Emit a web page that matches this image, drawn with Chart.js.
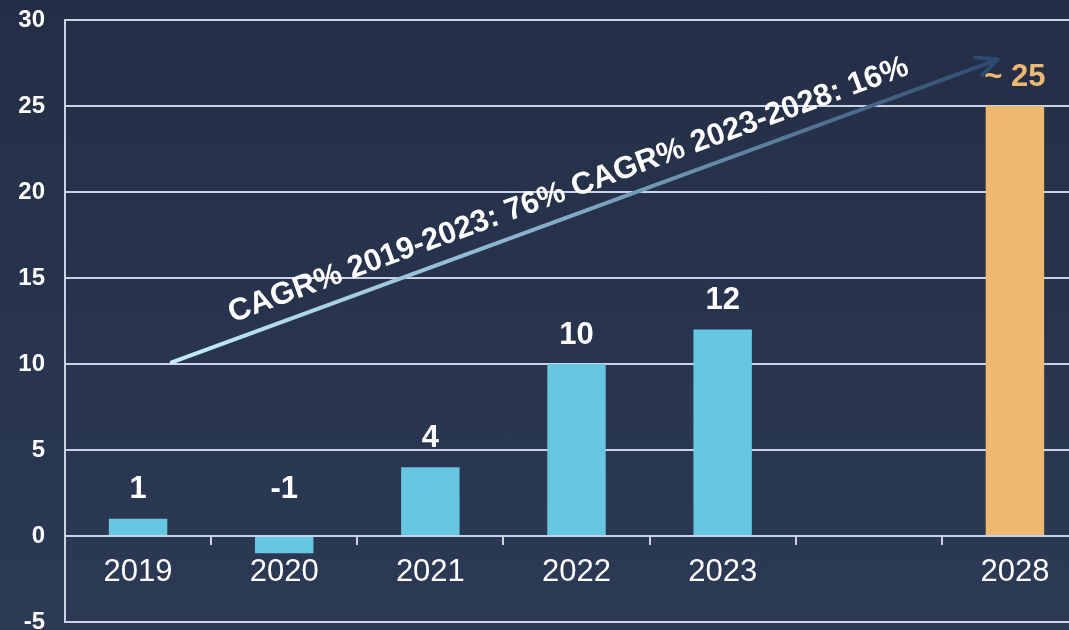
<!DOCTYPE html>
<html>
<head>
<meta charset="utf-8">
<script src="https://cdn.jsdelivr.net/npm/chart.js@4"></script>
<style>
    html, body {
        margin: 0;
        padding: 0;
        width: 1069px;
        height: 630px;
        overflow: hidden;
        background: linear-gradient(to bottom, #242e46 0%, #2c3a56 100%);
    }
    .chart-box {
        width: 1088px;
        height: 630px;
        position: relative;
    }
</style>
</head>
<body>
<div class="chart-box"><canvas id="cagrChart"></canvas></div>
<script>
// Chart data
const years = ['2019', '2020', '2021', '2022', '2023', '', '2028'];
const values = [1, -1, 4, 10, 12, null, 25];
const valueLabels = ['1', '-1', '4', '10', '12', '', '~ 25'];
const yTicks = [-5, 0, 5, 10, 15, 20, 25, 30];
const cagrText = 'CAGR% 2019-2023: 76% CAGR% 2023-2028: 16%';
// arrow ends in (category index, value) units
const arrowFrom = [0.23, 10.1];
const arrowTo = [5.88, 27.7];

const blue = '#67c6e0';
const orange = '#efb871';
const gridColor = '#c9d3e6';
const fontFamily = '"Liberation Sans", Arial, sans-serif';

const barColors = years.map(y => y === '2028' ? orange : blue);

// Labels above bars
const valueLabelPlugin = {
    id: 'valueLabels',
    afterDatasetsDraw(chart) {
        const { ctx, scales: { x, y } } = chart;
        ctx.save();
        ctx.font = 'bold 31px ' + fontFamily;
        ctx.textAlign = 'center';
        ctx.textBaseline = 'middle';
        values.forEach((v, i) => {
            if (v === null) return;
            ctx.fillStyle = years[i] === '2028' ? orange : '#ffffff';
            ctx.fillText(valueLabels[i], x.getPixelForValue(i), y.getPixelForValue(Math.max(v, 1)) - 29);
        });
        ctx.restore();
    }
};

// Growth arrow with rotated text
const arrowPlugin = {
    id: 'cagrArrow',
    afterDatasetsDraw(chart) {
        const { ctx, scales: { x, y } } = chart;
        const step = x.getPixelForValue(1) - x.getPixelForValue(0);
        const x1 = x.getPixelForValue(0) + arrowFrom[0] * step;
        const y1 = y.getPixelForValue(arrowFrom[1]);
        const x2 = x.getPixelForValue(0) + arrowTo[0] * step;
        const y2 = y.getPixelForValue(arrowTo[1]);
        const angle = Math.atan2(y2 - y1, x2 - x1);

        const grad = ctx.createLinearGradient(x1, y1, x2, y2);
        grad.addColorStop(0, '#c4ecf8');
        grad.addColorStop(0.5, '#7fa6c4');
        grad.addColorStop(1, '#2e4a70');

        ctx.save();
        ctx.strokeStyle = grad;
        ctx.lineWidth = 4;
        ctx.lineCap = 'round';
        ctx.beginPath();
        ctx.moveTo(x1, y1);
        ctx.lineTo(x2, y2);
        ctx.stroke();

        // open arrow head
        const head = 22;
        ctx.strokeStyle = '#2e4a70';
        ctx.lineJoin = 'round';
        ctx.beginPath();
        ctx.moveTo(x2 - head * Math.cos(angle - 0.45), y2 - head * Math.sin(angle - 0.45));
        ctx.lineTo(x2, y2);
        ctx.lineTo(x2 - head * Math.cos(angle + 0.45), y2 - head * Math.sin(angle + 0.45));
        ctx.stroke();

        // text along the arrow
        const mx = (x1 + x2) / 2;
        const my = (y1 + y2) / 2;
        ctx.translate(mx, my);
        ctx.rotate(angle);
        ctx.font = 'bold 31px ' + fontFamily;
        ctx.fillStyle = '#ffffff';
        ctx.textAlign = 'center';
        ctx.textBaseline = 'middle';
        ctx.fillText(cagrText, -8, -25);
        ctx.restore();
    }
};

const ctx = document.getElementById('cagrChart').getContext('2d');
const cagrChart = new Chart(ctx, {
    type: 'bar',
    data: {
        labels: years,
        datasets: [{
            data: values,
            backgroundColor: barColors,
            borderWidth: 0,
            barPercentage: 0.4,
            categoryPercentage: 1
        }]
    },
    options: {
        responsive: true,
        maintainAspectRatio: false,
        animation: false,
        layout: {
            padding: 0
        },
        plugins: {
            legend: { display: false },
            tooltip: { enabled: false }
        },
        scales: {
            x: {
                position: { y: 0 },
                grid: {
                    drawOnChartArea: false,
                    drawTicks: true,
                    tickLength: 8,
                    color: gridColor,
                    lineWidth: 2
                },
                border: {
                    color: gridColor,
                    width: 2
                },
                ticks: {
                    color: '#ffffff',
                    padding: 10,
                    font: { family: fontFamily, size: 31 }
                }
            },
            y: {
                min: -5,
                max: 30,
                afterBuildTicks(scale) {
                    scale.ticks = yTicks.map(v => ({ value: v }));
                },
                afterFit(scale) {
                    scale.width = 65;
                    scale.paddingTop = 20;
                    scale.paddingBottom = 8;
                },
                grid: {
                    color: gridColor,
                    lineWidth: 2,
                    drawTicks: false
                },
                border: {
                    color: gridColor,
                    width: 2
                },
                ticks: {
                    color: '#ffffff',
                    padding: 20,
                    font: { family: fontFamily, size: 24, weight: 'bold' }
                }
            }
        }
    },
    plugins: [valueLabelPlugin, arrowPlugin]
});
</script>
</body>
</html>
